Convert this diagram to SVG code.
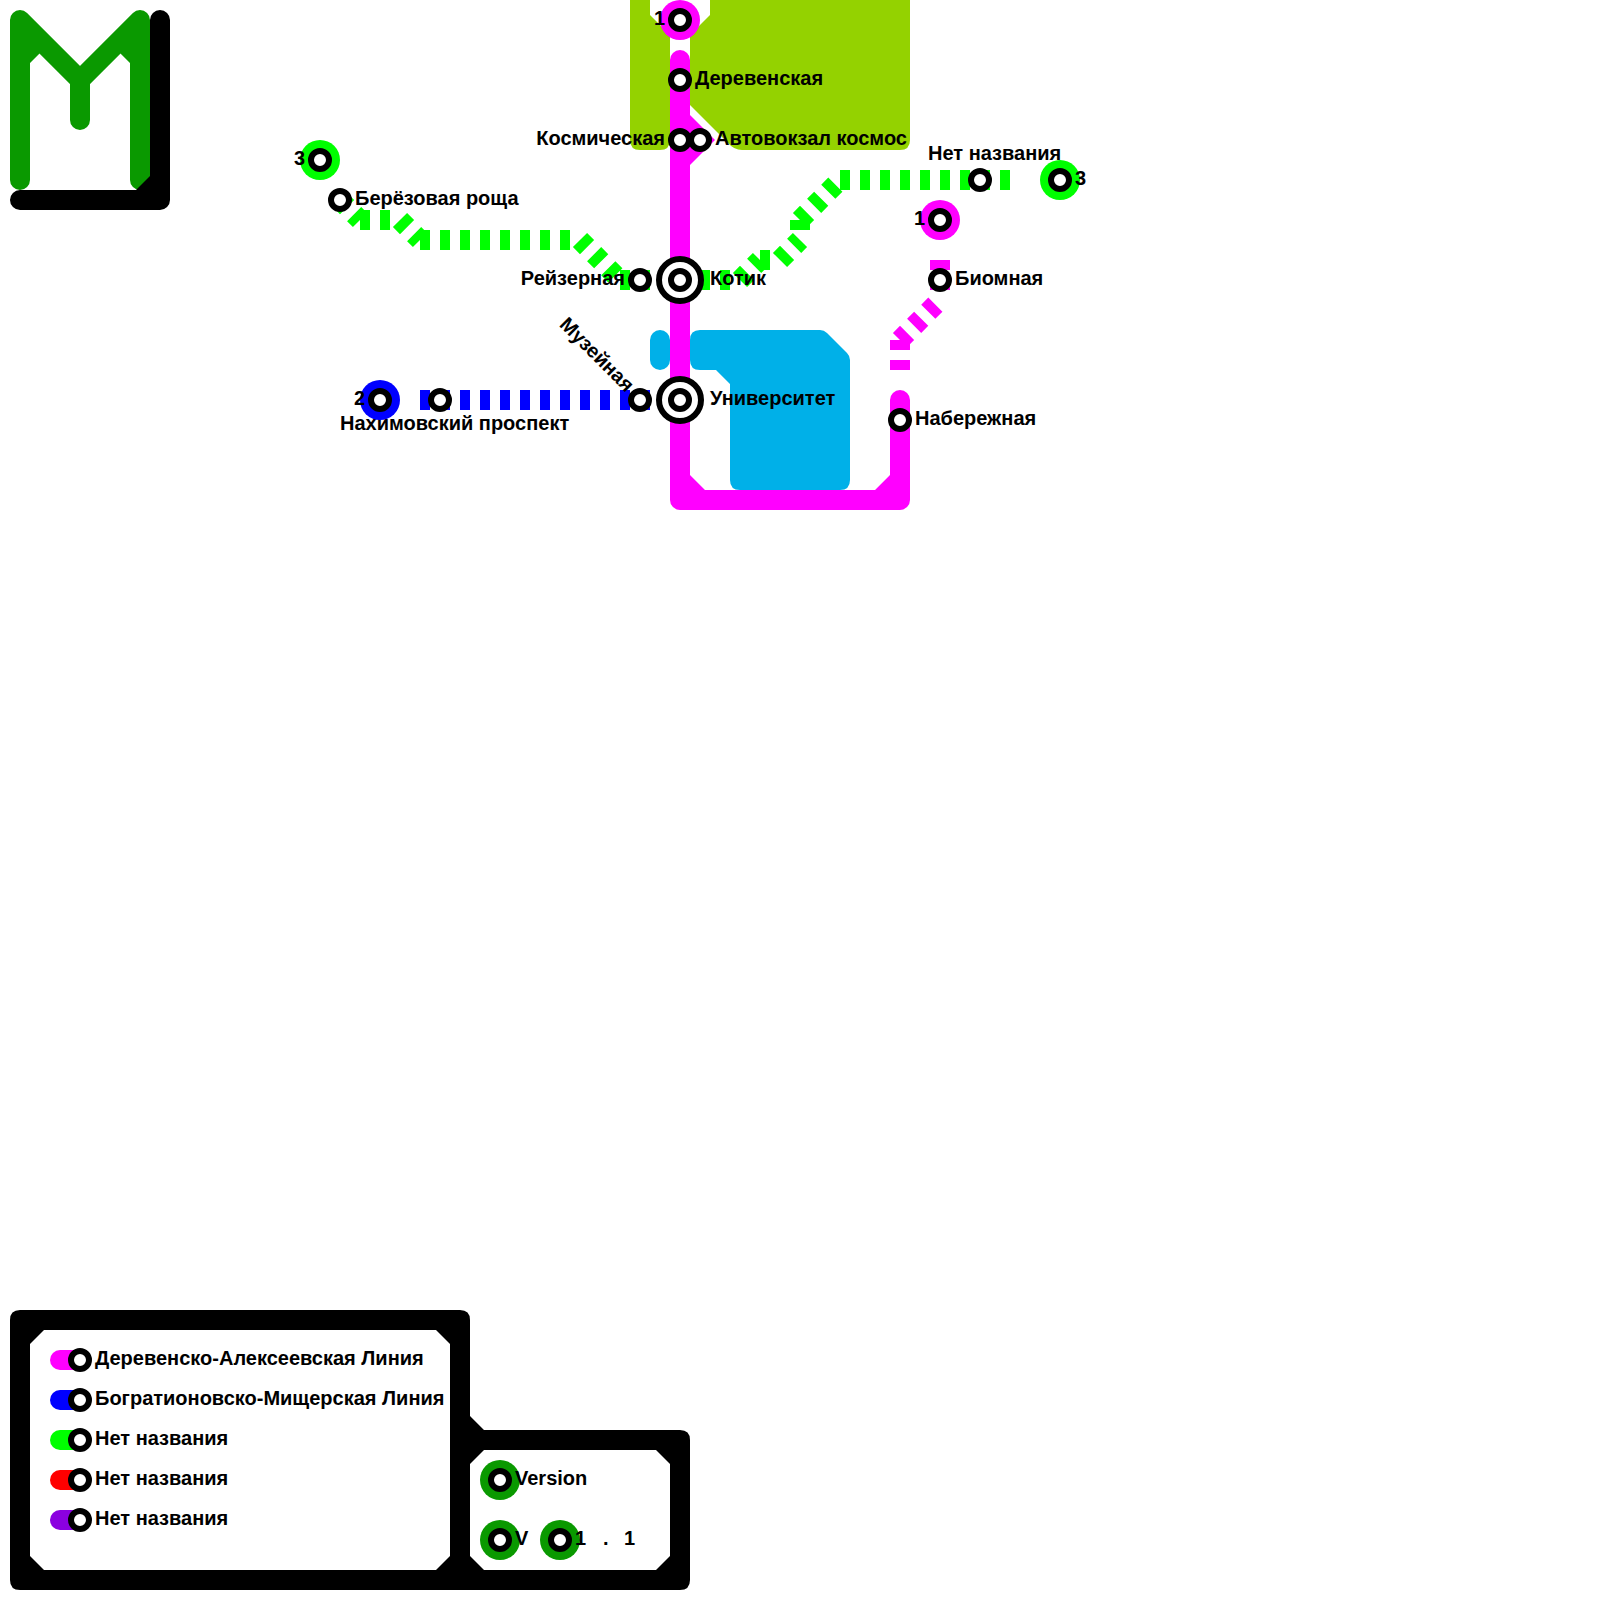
<svg xmlns="http://www.w3.org/2000/svg" width="1600" height="1600" viewBox="0 0 1600 1600">
<style>
text{font-family:"Liberation Sans",Arial,sans-serif;font-weight:bold;font-size:20px;fill:#000}
.e{text-anchor:end}
.l{fill:none;stroke-width:20;stroke-linecap:round;stroke-linejoin:round}
.d{fill:none;stroke-width:20;stroke-dasharray:10 10;stroke-linecap:butt}
.g{stroke:#00ff00}.b{stroke:#0000ff}.m{stroke:#ff00ff}
.s{fill:#fff;stroke:#000;stroke-width:6}
</style>
<defs>
<g id="st"><circle r="9" class="s"/></g>
<g id="tr"><circle r="21" class="s"/><circle r="9" class="s"/></g>
</defs>
<rect width="1600" height="1600" fill="#fff"/>
<g id="terrain">
<path fill="#94d200" d="M630,0H650V15L670,35V140Q670,150 660,150H640Q630,150 630,140Z"/>
<path fill="#94d200" d="M710,0H910V140Q910,150 900,150H742Q734,150 728,143L690,105V35L710,15Z"/>
<rect x="650" y="330" width="20" height="40" rx="10" fill="#00b0e8"/>
<path fill="#00b0e8" d="M700,330H820Q824,330 827,333L847,353Q850,356 850,360V480Q850,490 840,490H740Q730,490 730,480V384L716,370H700Q690,370 690,360V340Q690,330 700,330Z"/>
</g>
<g id="logo">
<path class="l" stroke="#0a9900" d="M20,180V20L80,80L140,20V180M80,80V120"/>
<path fill="#0a9900" d="M30,63L40,53L30,43ZM130,63L120,53L130,43Z"/>
<path class="l" stroke="#000" d="M160,20V200H20"/>
<path fill="#000" d="M150,176V190H136Z"/>
</g>
<g id="connectors">
<path class="d g" d="M340,200L360,220"/>
<path class="d g" d="M360,220H400"/>
<path class="d g" d="M400,220L420,240"/>
<path class="d g" d="M420,240H580"/>
<path class="d g" d="M580,240L620,280"/>
<path class="d g" d="M620,280H740"/>
<path class="d g" d="M740,280L760,260"/>
<path class="d g" d="M760,260H780"/>
<path class="d g" d="M780,260L800,240"/>
<path class="d g" d="M800,220V240"/>
<path class="d g" d="M800,220L840,180"/>
<path class="d g" d="M840,180H1020"/>
<path class="d b" d="M420,400H660"/>
<path class="l m" d="M680,60V500H900V400"/>
<path fill="#ff00ff" d="M690,115L715,140L690,165Z"/>
<path fill="#ff00ff" d="M690,475L705,490H690ZM875,490L890,475V490Z"/>
<path class="d m" d="M940,260V300"/>
<path class="d m" d="M900,340L940,300"/>
<path class="d m" d="M900,340V380"/>
</g>
<g id="st-t1"><circle cx="680" cy="20" r="20" fill="#ff00ff"/><use href="#st" x="680" y="20"/><text x="665" y="25" class="e">1</text></g>
<g id="st-derevenskaya"><use href="#st" x="680" y="80"/><text x="695" y="85">Деревенская</text></g>
<g id="st-kosmicheskaya"><use href="#st" x="680" y="140"/><text x="665" y="145" class="e">Космическая</text></g>
<g id="st-avtovokzal"><use href="#st" x="700" y="140"/><text x="715" y="145">Автовокзал космос</text></g>
<g id="st-kotik"><use href="#tr" x="680" y="280"/><text x="710" y="285">Котик</text></g>
<g id="st-reyzernaya"><use href="#st" x="640" y="280"/><text x="625" y="285" class="e">Рейзерная</text></g>
<g id="st-universitet"><use href="#tr" x="680" y="400"/><text x="710" y="405">Университет</text></g>
<g id="st-muzeynaya"><use href="#st" x="640" y="400"/><text transform="translate(626,393) rotate(45)" class="e">Музейная</text></g>
<g id="st-nakhimovsky"><use href="#st" x="440" y="400"/><text x="340" y="430">Нахимовский проспект</text></g>
<g id="st-t2"><circle cx="380" cy="400" r="20" fill="#0000ff"/><use href="#st" x="380" y="400"/><text x="365" y="405" class="e">2</text></g>
<g id="st-t3a"><circle cx="320" cy="160" r="20" fill="#00ff00"/><use href="#st" x="320" y="160"/><text x="305" y="165" class="e">3</text></g>
<g id="st-beryozovaya"><use href="#st" x="340" y="200"/><text x="355" y="205">Берёзовая роща</text></g>
<g id="st-noname"><use href="#st" x="980" y="180"/><text x="928" y="160">Нет названия</text></g>
<g id="st-t3b"><circle cx="1060" cy="180" r="20" fill="#00ff00"/><use href="#st" x="1060" y="180"/><text x="1075" y="185">3</text></g>
<g id="st-t1b"><circle cx="940" cy="220" r="20" fill="#ff00ff"/><use href="#st" x="940" y="220"/><text x="925" y="225" class="e">1</text></g>
<g id="st-biomnaya"><use href="#st" x="940" y="280"/><text x="955" y="285">Биомная</text></g>
<g id="st-naberezhnaya"><use href="#st" x="900" y="420"/><text x="915" y="425">Набережная</text></g>
<g id="legend">
<path fill="#000" d="M20,1310H460Q470,1310 470,1320V1416L484,1430H680Q690,1430 690,1440V1580Q690,1590 680,1590H20Q10,1590 10,1580V1320Q10,1310 20,1310Z"/>
<path fill="#fff" d="M44,1330H436L450,1344V1556L436,1570H44L30,1556V1344Z"/>
<path fill="#fff" d="M484,1450H656L670,1464V1556L656,1570H484L470,1556V1464Z"/>
</g>
<g id="legend-1"><path class="l" stroke="#ff00ff" d="M60,1360H80"/><use href="#st" x="80" y="1360"/><text x="95" y="1365">Деревенско-Алексеевская Линия</text></g>
<g id="legend-2"><path class="l" stroke="#0000ff" d="M60,1400H80"/><use href="#st" x="80" y="1400"/><text x="95" y="1405">Богратионовско-Мищерская Линия</text></g>
<g id="legend-3"><path class="l" stroke="#00ff00" d="M60,1440H80"/><use href="#st" x="80" y="1440"/><text x="95" y="1445">Нет названия</text></g>
<g id="legend-4"><path class="l" stroke="#ff0000" d="M60,1480H80"/><use href="#st" x="80" y="1480"/><text x="95" y="1485">Нет названия</text></g>
<g id="legend-5"><path class="l" stroke="#8b00e0" d="M60,1520H80"/><use href="#st" x="80" y="1520"/><text x="95" y="1525">Нет названия</text></g>
<g id="version"><circle cx="500" cy="1480" r="20" fill="#0a9900"/><use href="#st" x="500" y="1480"/><text x="515" y="1485">Version</text></g>
<g id="version-v"><circle cx="500" cy="1540" r="20" fill="#0a9900"/><use href="#st" x="500" y="1540"/><text x="515" y="1545">V</text></g>
<g id="version-n"><circle cx="560" cy="1540" r="20" fill="#0a9900"/><use href="#st" x="560" y="1540"/><text x="575 603 624" y="1545">1.1</text></g>
</svg>
